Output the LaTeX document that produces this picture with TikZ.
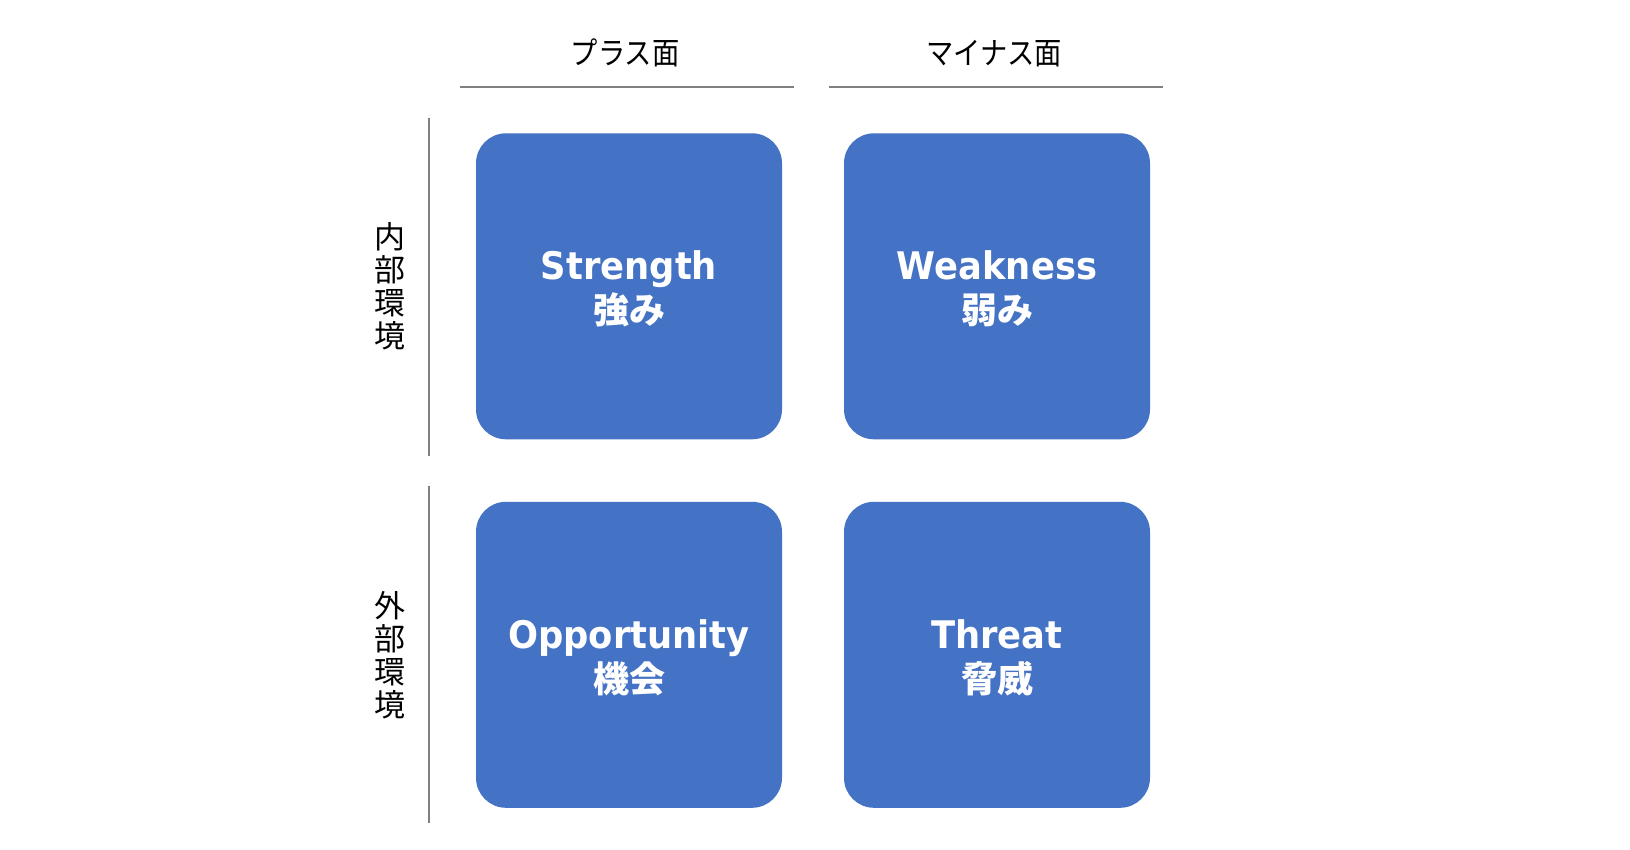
\documentclass[tikz,border=0pt]{standalone}
\usepackage{fontspec}
\newfontfamily\enb{DejaVu Sans}[FakeStretch=0.93]
\newfontfamily\jp{Noto Sans CJK JP}
\newfontfamily\jpn{Noto Sans CJK JP}[FakeStretch=0.88]
\definecolor{boxblue}{HTML}{4472C4}
\definecolor{rulegray}{HTML}{808080}
\newcommand{\toppad}{\rule{0pt}{34pt}}
\begin{document}
\begin{tikzpicture}[x=1pt,y=-1pt,
  quad/.style={fill=boxblue, rounded corners=30pt, minimum width=306pt,
    minimum height=306pt, inner sep=0pt, text=white, align=center,
    font=\enb\bfseries\fontsize{38}{44}\selectfont},
  hdr/.style={font=\jpn\fontsize{31}{33}\selectfont, inner sep=0pt, anchor=base, text=black},
  vlab/.style={font=\jp\fontsize{31}{33}\selectfont, inner sep=0pt, align=center, text=black},
  sep/.style={draw=rulegray, line width=2pt}]
  \useasboundingbox (0,0) rectangle (1630,850);
  \fill[white] (0,0) rectangle (1630,850);

  % quadrants
  \node[quad] (S) at (629,286.3) {\toppad Strength\\{\jp\bfseries\fontsize{36}{44}\selectfont 強み}};
  \node[quad] (W) at (997,286.3) {\toppad Weakness\\{\jp\bfseries\fontsize{36}{44}\selectfont 弱み}};
  \node[quad] (O) at (629,654.8) {\toppad Opportunity\\{\jp\bfseries\fontsize{36}{44}\selectfont 機会}};
  \node[quad] (T) at (997,654.8) {\toppad Threat\\{\jp\bfseries\fontsize{36}{44}\selectfont 脅威}};

  % column headers
  \node[hdr] (plus) at (625,64.5) {プラス面};
  \node[hdr] (minus) at (994,64.5) {マイナス面};
  \coordinate (h1a) at (460,86.7);
  \coordinate (h1b) at (794,86.7);
  \coordinate (h2a) at (829,86.7);
  \coordinate (h2b) at (1163,86.7);
  \draw[sep] (h1a) -- (h1b);
  \draw[sep] (h2a) -- (h2b);

  % row headers
  \node[vlab] (inner) at (390,286) {内\\部\\環\\境};
  \node[vlab] (outer) at (390,655) {外\\部\\環\\境};
  \coordinate (v1a) at (429,118);
  \coordinate (v1b) at (429,455.7);
  \coordinate (v2a) at (429,486);
  \coordinate (v2b) at (429,823);
  \draw[sep] (v1a) -- (v1b);
  \draw[sep] (v2a) -- (v2b);
\end{tikzpicture}
\end{document}
